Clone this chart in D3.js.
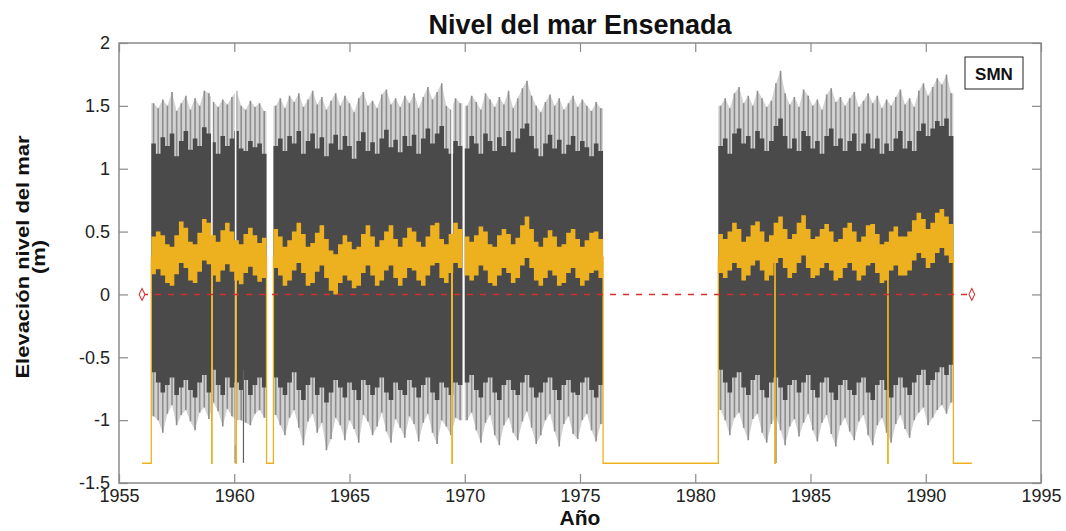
<!DOCTYPE html>
<html>
<head>
<meta charset="utf-8">
<script src="https://cdn.jsdelivr.net/npm/d3@7"></script>
<style>
  body { margin: 0; background: #fff; }
  text { font-family: "Liberation Sans", Arial, sans-serif; }
</style>
</head>
<body>
<div id="chart"></div>
<script>

    const WIDTH = 1066;
    const HEIGHT = 531;
    const PLOT = {left: 119, right: 1041, top: 43, bottom: 483};

    // sampling of the hourly record, one value every STEP years (values in cm)
    const STEP = 0.2;
    const segStart = [1956.4, 1961.7, 1970.0, 1981.0];

    // highest spikes (light grey)
    const hiA = [152,148,155,150,161,146,152,158,147,156,150,162,160,153,149,155,151,157,162,150,147,154,149,152,146];
    const hiB = [150,156,148,158,153,160,149,155,162,151,157,147,154,160,150,158,152,145,156,161,150,154,148,159,163,151,156,149,158,152,160,148,157,165,155,161,168,150,147,156,152];
    const hiC = [150,158,153,147,160,155,149,157,151,162,148,156,164,170,158,150,145,153,159,150,156,147,152,158,149,155,150,146,153,148];
    const hiD = [150,156,148,160,165,152,158,150,162,156,149,154,168,178,160,151,157,149,163,158,150,155,147,159,164,153,157,150,156,161,149,154,160,152,158,148,155,150,157,163,151,156,149,162,168,158,165,172,167,175,160];

    // dense core (dark grey) upper edge
    const dkHiA = [120,112,125,118,128,110,122,130,115,124,118,133,128,121,112,126,118,124,130,116,114,122,117,120,112];
    const dkHiB = [118,124,114,126,120,130,112,122,128,116,125,110,120,127,115,126,118,108,122,129,114,121,112,124,131,117,123,113,126,118,127,112,124,132,120,128,134,116,112,122,118];
    const dkHiC = [116,126,120,112,128,122,114,125,118,130,113,124,132,136,126,116,110,120,127,116,123,112,119,126,114,122,117,110,120,114];
    const dkHiD = [118,124,112,128,132,120,126,116,130,124,114,122,134,140,126,116,124,114,130,126,116,122,112,126,132,118,124,114,122,128,114,120,128,116,124,112,120,114,124,130,116,122,114,130,136,126,132,138,134,140,126];

    // dense core lower edge
    const dkLoA = [-62,-70,-78,-72,-66,-80,-74,-68,-76,-82,-70,-64,-78,-60,-72,-80,-66,-74,-70,-76,-68,-80,-72,-66,-74];
    const dkLoB = [-66,-74,-80,-70,-62,-76,-84,-72,-66,-80,-74,-86,-78,-68,-74,-82,-70,-76,-84,-68,-72,-80,-74,-66,-78,-84,-70,-76,-80,-68,-74,-82,-72,-66,-78,-84,-70,-74,-80,-70,-72];
    const dkLoC = [-70,-64,-76,-82,-70,-66,-78,-84,-72,-68,-76,-80,-70,-64,-74,-82,-78,-70,-66,-76,-84,-72,-68,-78,-80,-70,-66,-76,-82,-72];
    const dkLoD = [-60,-70,-78,-66,-62,-74,-80,-68,-64,-76,-82,-70,-66,-74,-84,-72,-68,-78,-70,-64,-76,-82,-70,-66,-78,-84,-72,-68,-76,-80,-70,-66,-78,-84,-72,-68,-76,-82,-72,-66,-74,-80,-70,-64,-60,-72,-68,-62,-58,-64,-56];

    // lowest spikes
    const loA = [-97,-100,-110,-95,-88,-104,-96,-92,-101,-108,-94,-90,-99,-86,-93,-105,-91,-97,-100,-100,-102,-104,-95,-92,-98];
    const loB = [-96,-104,-112,-98,-92,-106,-120,-101,-95,-110,-102,-124,-115,-98,-104,-116,-100,-107,-118,-96,-101,-112,-105,-94,-109,-118,-99,-106,-114,-97,-103,-117,-102,-95,-110,-119,-100,-105,-112,-98,-100];
    const loC = [-100,-94,-108,-118,-102,-96,-112,-120,-104,-98,-110,-116,-101,-93,-106,-119,-112,-100,-95,-109,-121,-103,-97,-111,-115,-100,-95,-108,-117,-103];
    const loD = [-92,-100,-112,-98,-94,-106,-116,-99,-95,-110,-118,-103,-97,-108,-120,-105,-99,-113,-102,-95,-108,-117,-102,-96,-111,-121,-104,-98,-109,-116,-101,-96,-112,-120,-104,-98,-110,-118,-103,-96,-107,-114,-100,-94,-90,-104,-98,-92,-88,-95,-86];

    // smoothed level (orange) band
    const oHiA = [46,50,47,40,38,47,58,53,42,40,49,60,57,47,42,51,57,50,43,40,48,53,47,41,45];
    const oHiB = [52,46,38,43,50,57,48,38,41,49,55,44,35,32,40,47,42,36,38,48,55,46,38,43,50,55,44,38,45,53,50,42,38,46,55,57,44,40,48,57,52];
    const oHiC = [46,42,47,54,50,40,38,47,52,48,40,45,55,62,52,42,38,45,51,46,38,40,49,52,44,38,43,49,50,44];
    const oHiD = [48,44,50,57,52,42,46,55,58,50,42,47,57,62,52,44,48,57,63,52,44,46,52,56,50,42,44,53,57,50,42,46,55,56,48,40,42,50,54,46,46,50,59,65,60,52,57,65,68,62,56];
    const oLoA = [16,20,15,9,7,16,25,21,11,9,18,27,24,15,10,19,24,18,11,8,17,22,15,10,13];
    const oLoB = [21,15,7,11,19,25,17,7,9,18,23,13,3,0,9,15,11,5,7,17,23,15,7,11,19,23,13,7,13,21,19,11,7,15,23,25,13,9,17,25,21];
    const oLoC = [15,11,15,23,19,9,7,15,21,17,9,13,23,29,21,11,7,13,19,15,7,9,17,21,13,7,11,17,19,13];
    const oLoD = [17,13,19,25,21,11,15,23,27,19,11,15,25,29,21,13,17,25,31,21,13,15,21,25,19,11,13,21,25,19,11,15,23,25,17,9,11,19,23,15,15,19,27,33,29,21,25,33,37,31,25];

    // missing data: orange line falls to the fill value
    const FILL = -1.343;
    const gapFrom = [1956.0, 1959.02, 1960.07, 1961.4, 1969.44, 1976.0, 1983.45, 1988.35, 1991.2];
    const gapTo   = [1956.4, 1959.04, 1960.09, 1961.7, 1969.46, 1981.0, 1983.47, 1988.37, 1992.0];
    const shortGaps = [1959.03, 1960.06, 1969.45];
    const dropYears = [1960.04, 1960.4, 1983.5];
    const dropVals = [-1.34, -1.34, -1.34];

    const refLine = {from: 1956, to: 1992, level: 0};

    const xTicks = [1955, 1960, 1965, 1970, 1975, 1980, 1985, 1990, 1995];
    const yTicks = [-1.5, -1, -0.5, 0, 0.5, 1, 1.5, 2];

    const GREY_DARK = "#4a4a4a";
    const GREY_HAZE = "#d2d2d2";
    const GREY_LIGHT = "#8e8e8e";
    const ORANGE = "#edb120";
    const RED = "#d62d2d";

    // build one list of samples per segment
    var hiS = [hiA, hiB, hiC, hiD], dkHiS = [dkHiA, dkHiB, dkHiC, dkHiD],
        dkLoS = [dkLoA, dkLoB, dkLoC, dkLoD], loS = [loA, loB, loC, loD],
        oHiS = [oHiA, oHiB, oHiC, oHiD], oLoS = [oLoA, oLoB, oLoC, oLoD];
    var segments = segStart.map(function(s0, s) {
        return hiS[s].map(function(v, i) {
            return {
                t: Math.round((s0 + i * STEP) * 100) / 100,
                hi: v / 100, dkHi: dkHiS[s][i] / 100, dkLo: dkLoS[s][i] / 100,
                lo: loS[s][i] / 100, oHi: oHiS[s][i] / 100, oLo: oLoS[s][i] / 100
            };
        });
    });
    var rows = [].concat.apply([], segments);

    var x = d3.scaleLinear().domain([1955, 1995]).range([PLOT.left, PLOT.right]);
    var y = d3.scaleLinear().domain([-1.5, 2]).range([PLOT.bottom, PLOT.top]);

    var svg = d3.select("#chart").append("svg")
        .attr("width", WIDTH)
        .attr("height", HEIGHT);

    var plot = svg.append("g");

    // closes each segment at its last sample's end
    function closed(seg) {
        var last = seg[seg.length - 1];
        return seg.concat([Object.assign({}, last, {t: last.t + STEP})]);
    }
    // peaks sit in the middle of each sample interval
    function peaks(seg) {
        var first = seg[0], last = seg[seg.length - 1];
        return [Object.assign({}, first, {m: first.t})]
            .concat(seg.map(d => Object.assign({}, d, {m: d.t + STEP / 2})))
            .concat([Object.assign({}, last, {m: last.t + STEP})]);
    }

    var haze = d3.area().x(d => x(d.m)).y0(d => y(d.lo)).y1(d => y(d.hi));
    var core = d3.area().curve(d3.curveStepAfter).x(d => x(d.t)).y0(d => y(d.dkLo)).y1(d => y(d.dkHi));
    var band = d3.area().curve(d3.curveStepAfter).x(d => x(d.t)).y0(d => y(d.oLo)).y1(d => y(d.oHi));

    segments.forEach(function(seg) {
        plot.append("path").attr("d", haze(peaks(seg))).attr("fill", GREY_HAZE);
    });

    // single spikes
    plot.selectAll("line.spike").data(rows).enter().append("line")
        .attr("class", "spike")
        .attr("x1", d => x(d.t + STEP / 2)).attr("x2", d => x(d.t + STEP / 2))
        .attr("y1", d => y(d.hi)).attr("y2", d => y(d.lo))
        .style("stroke", GREY_LIGHT)
        .attr("stroke-width", 1.6);

    segments.forEach(function(seg) {
        plot.append("path").attr("d", core(closed(seg))).attr("fill", GREY_DARK);
    });

    // single low readings
    dropYears.forEach(function(t, i) {
        plot.append("line")
            .attr("x1", x(t)).attr("x2", x(t))
            .attr("y1", y(-0.6)).attr("y2", y(dropVals[i]))
            .style("stroke", "#606060")
            .attr("stroke-width", 1.2);
    });

    // short breaks in the record
    shortGaps.forEach(function(t) {
        plot.append("line")
            .attr("x1", x(t)).attr("x2", x(t))
            .attr("y1", y(1.75)).attr("y2", y(-1.2))
            .style("stroke", "#fff")
            .attr("stroke-width", 1.6);
    });

    // orange falls to the fill value where data is missing
    gapFrom.forEach(function(t0, i) {
        var t1 = gapTo[i];
        var p = d3.path();
        if (i == 0) {
            p.moveTo(x(t0), y(FILL));
        } else {
            p.moveTo(x(t0), y(0.3));
            p.lineTo(x(t0), y(FILL));
        }
        p.lineTo(x(t1), y(FILL));
        if (i < gapFrom.length - 1) p.lineTo(x(t1), y(0.3));
        plot.append("path")
            .attr("d", p.toString())
            .attr("fill", "none")
            .style("stroke", ORANGE)
            .attr("stroke-width", 1.3);
    });

    // smoothed level band
    segments.forEach(function(seg) {
        plot.append("path").attr("d", band(closed(seg))).attr("fill", ORANGE);
    });

    // zero reference
    plot.append("line")
        .attr("x1", x(refLine.from)).attr("x2", x(refLine.to))
        .attr("y1", y(refLine.level)).attr("y2", y(refLine.level))
        .style("stroke", RED)
        .style("stroke-dasharray", "6,7")
        .attr("stroke-width", 1.4);
    [refLine.from, refLine.to].forEach(function(t) {
        plot.append("path")
            .attr("d", d3.symbol(d3.symbolDiamond, 40)())
            .attr("transform", "translate(" + x(t) + "," + y(refLine.level) + ") scale(0.85,1)")
            .attr("fill", "#fff")
            .style("stroke", RED)
            .attr("stroke-width", 1.2);
    });

    // axes
    var axisColor = "#8a8a8a";
    var plain = d => String(d);
    var gx = svg.append("g").attr("transform", "translate(0," + PLOT.bottom + ")")
        .call(d3.axisBottom(x).tickValues(xTicks).tickSize(-9).tickSizeOuter(0).tickPadding(6).tickFormat(plain));
    var gxt = svg.append("g").attr("transform", "translate(0," + PLOT.top + ")")
        .call(d3.axisTop(x).tickValues(xTicks).tickSize(-9).tickSizeOuter(0).tickFormat(""));
    var gy = svg.append("g").attr("transform", "translate(" + PLOT.left + ",0)")
        .call(d3.axisLeft(y).tickValues(yTicks).tickSize(-9).tickSizeOuter(0).tickPadding(9).tickFormat(plain));
    var gyr = svg.append("g").attr("transform", "translate(" + PLOT.right + ",0)")
        .call(d3.axisRight(y).tickValues(yTicks).tickSize(-9).tickSizeOuter(0).tickFormat(""));

    [gx, gxt, gy, gyr].forEach(function(g) {
        g.select(".domain").remove();
        g.selectAll("line").style("stroke", axisColor).attr("stroke-width", 1.2);
        g.selectAll("text").attr("font-family", "Liberation Sans, Arial, sans-serif")
            .attr("font-size", 18).attr("fill", "#222");
    });

    svg.append("rect")
        .attr("x", PLOT.left).attr("y", PLOT.top)
        .attr("width", PLOT.right - PLOT.left).attr("height", PLOT.bottom - PLOT.top)
        .attr("fill", "none")
        .style("stroke", axisColor)
        .attr("stroke-width", 1.5);

    // titles
    svg.append("text")
        .attr("x", (PLOT.left + PLOT.right) / 2)
        .attr("y", 34)
        .attr("text-anchor", "middle")
        .attr("font-weight", "bold")
        .attr("font-size", 27)
        .attr("fill", "#111")
        .text("Nivel del mar Ensenada");

    svg.append("text")
        .attr("x", (PLOT.left + PLOT.right) / 2)
        .attr("y", 525)
        .attr("text-anchor", "middle")
        .attr("font-weight", "bold")
        .attr("font-size", 21)
        .attr("fill", "#111")
        .text("Año");

    var ylab = svg.append("text")
        .attr("transform", "translate(29,257) rotate(-90) scale(1,0.82)")
        .attr("text-anchor", "middle")
        .attr("font-weight", "bold")
        .attr("font-size", 22)
        .attr("fill", "#111");
    ylab.append("tspan").attr("x", 0).attr("y", 0).text("Elevación nivel del mar");
    ylab.append("tspan").attr("x", 0).attr("y", 20).text("(m)");

    // legend box
    svg.append("rect")
        .attr("x", 965).attr("y", 57).attr("width", 58).attr("height", 32)
        .attr("fill", "#fff")
        .style("stroke", "#222")
        .attr("stroke-width", 1);
    svg.append("text")
        .attr("x", 994).attr("y", 80)
        .attr("text-anchor", "middle")
        .attr("font-weight", "bold")
        .attr("font-size", 17)
        .attr("fill", "#111")
        .text("SMN");

</script>
</body>
</html>
